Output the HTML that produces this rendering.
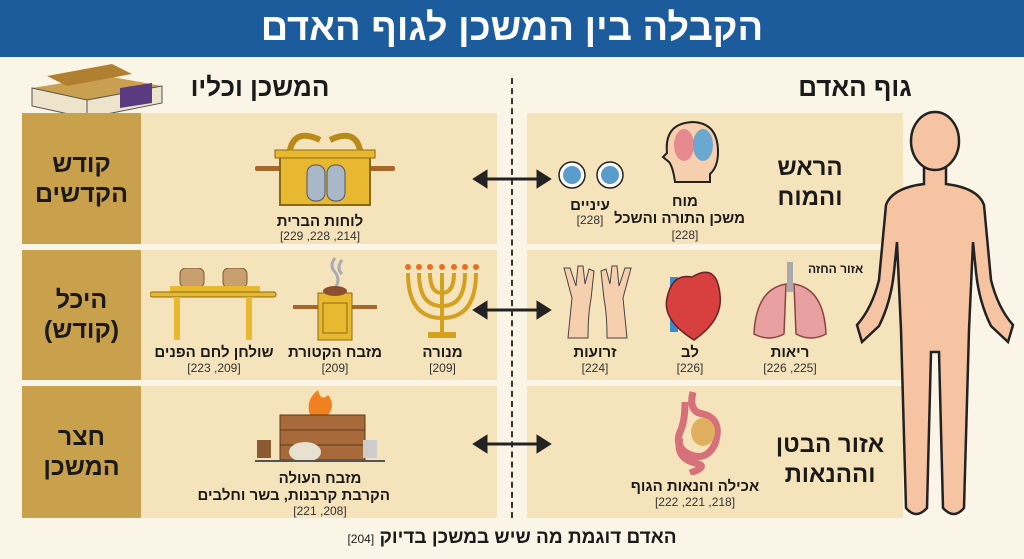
<!DOCTYPE html>
<html><head><meta charset="utf-8"><style>
*{margin:0;padding:0;box-sizing:border-box}
body{width:1024px;height:559px;background:#faf5e6;position:relative;overflow:hidden;font-family:"Liberation Sans","Noto Sans CJK SC",sans-serif;direction:rtl;color:#1a1a1a}
.a{position:absolute}
.hdr{left:0;top:0;width:1024px;height:57px;background:#1d5c9c;color:#fff;font-size:38px;font-weight:bold;text-align:center;line-height:56px}
.lab{background:#c9a14d;font-weight:bold;font-size:25px;text-align:center;line-height:30px;display:flex;align-items:center;justify-content:center}
.cnt{background:#f5e3bc}
.t{font-weight:bold;font-size:15px;text-align:center;white-space:nowrap}
.r{font-size:12px;text-align:center;color:#333;white-space:nowrap}
.big{font-weight:bold;font-size:24px;text-align:center;line-height:30px}
</style></head><body>
<div class="a hdr">הקבלה בין המשכן לגוף האדם</div>

<svg class="a" style="left:12px;top:58px" width="160" height="65">
<polygon points="20,30 95,18 150,28 75,42" fill="#c8a050"/>
<polygon points="20,30 75,42 75,60 20,48" fill="#eee4cc" stroke="#555"/>
<polygon points="75,42 150,28 150,45 75,60" fill="#eee4cc" stroke="#555"/>
<polygon points="108,30 140,25 140,45 108,50" fill="#5a3a80"/>
<polygon points="35,18 100,6 120,16 55,28" fill="#b08030"/>
</svg>

<div class="a big" style="left:175px;top:72px;width:170px;font-size:26px">המשכן וכליו</div>
<div class="a big" style="left:770px;top:72px;width:170px;font-size:26px">גוף האדם</div>

<div class="a" style="left:511px;top:78px;height:440px;border-left:2px dashed #333"></div>

<div class="a lab" style="left:22px;top:113px;width:119px;height:131px">קודש<br>הקדשים</div>
<div class="a cnt" style="left:141px;top:113px;width:356px;height:131px"></div>
<div class="a lab" style="left:22px;top:250px;width:119px;height:130px">היכל<br>(קודש)</div>
<div class="a cnt" style="left:141px;top:250px;width:356px;height:130px"></div>
<div class="a lab" style="left:22px;top:386px;width:119px;height:132px">חצר<br>המשכן</div>
<div class="a cnt" style="left:141px;top:386px;width:356px;height:132px"></div>

<div class="a cnt" style="left:527px;top:113px;width:376px;height:131px"></div>
<div class="a cnt" style="left:527px;top:250px;width:376px;height:130px"></div>
<div class="a cnt" style="left:527px;top:386px;width:376px;height:132px"></div>

<svg class="a" style="left:470px;top:160px" width="85" height="300">
<g stroke="#222" stroke-width="3" fill="#222">
<line x1="12" y1="19" x2="72" y2="19"/><polygon points="5,19 16,12 16,26"/><polygon points="79,19 68,12 68,26"/>
<line x1="12" y1="150" x2="72" y2="150"/><polygon points="5,150 16,143 16,157"/><polygon points="79,150 68,143 68,157"/>
<line x1="12" y1="284" x2="72" y2="284"/><polygon points="5,284 16,277 16,291"/><polygon points="79,284 68,277 68,291"/>
</g></svg>

<svg class="a" style="left:255px;top:120px" width="145" height="90">
<rect x="0" y="46" width="140" height="5" rx="2" fill="#a8662a"/>
<rect x="25" y="35" width="90" height="50" fill="#e8b830" stroke="#8a6a10" stroke-width="2"/>
<rect x="20" y="30" width="100" height="8" fill="#e8b830" stroke="#8a6a10"/>
<path d="M35,30 q5,-22 30,-10 M105,30 q-5,-22 -30,-10" stroke="#b88a18" stroke-width="6" fill="none"/>
<rect x="52" y="45" width="18" height="36" rx="8" fill="#a8b8c8" stroke="#556"/>
<rect x="72" y="45" width="18" height="36" rx="8" fill="#a8b8c8" stroke="#556"/>
</svg>
<div class="a t" style="left:250px;top:213px;width:140px">לוחות הברית</div>
<div class="a r" style="left:250px;top:229px;width:140px">[214, 228, 229]</div>

<svg class="a" style="left:400px;top:258px" width="85" height="85">
<g stroke="#d4a020" stroke-width="4" fill="none">
<line x1="42" y1="15" x2="42" y2="75"/>
<path d="M8,15 q0,45 34,45 q34,0 34,-45"/><path d="M19,15 q0,33 23,33 q23,0 23,-33"/><path d="M30,15 q0,20 12,20 q12,0 12,-20"/>
</g>
<rect x="28" y="74" width="28" height="6" fill="#d4a020"/>
<g fill="#e87020"><circle cx="8" cy="9" r="3"/><circle cx="19" cy="9" r="3"/><circle cx="30" cy="9" r="3"/><circle cx="42" cy="9" r="3"/><circle cx="54" cy="9" r="3"/><circle cx="65" cy="9" r="3"/><circle cx="76" cy="9" r="3"/></g>
</svg>
<div class="a t" style="left:400px;top:344px;width:85px">מנורה</div>
<div class="a r" style="left:400px;top:361px;width:85px">[209]</div>

<svg class="a" style="left:290px;top:255px" width="90" height="90">
<path d="M45,3 q-6,8 0,14 q6,8 0,16 M52,5 q-6,8 0,14" stroke="#aab" stroke-width="3" fill="none"/>
<rect x="3" y="50" width="84" height="4" fill="#a8662a"/>
<rect x="28" y="38" width="34" height="47" fill="#e8b830" stroke="#8a6a10"/>
<rect x="33" y="48" width="24" height="30" fill="none" stroke="#8a6a10"/>
<ellipse cx="45" cy="36" rx="12" ry="5" fill="#8a5030"/>
</svg>
<div class="a t" style="left:285px;top:344px;width:100px">מזבח הקטורת</div>
<div class="a r" style="left:285px;top:361px;width:100px">[209]</div>

<svg class="a" style="left:150px;top:268px" width="128" height="75">
<rect x="30" y="0" width="24" height="20" rx="6" fill="#c8a070" stroke="#7a5a30"/>
<rect x="73" y="0" width="24" height="20" rx="6" fill="#c8a070" stroke="#7a5a30"/>
<rect x="20" y="18" width="90" height="8" fill="#e8b830"/>
<rect x="0" y="24" width="126" height="5" rx="2" fill="#e8b830" stroke="#8a6a10"/>
<rect x="24" y="29" width="6" height="43" fill="#e8b830"/><rect x="96" y="29" width="6" height="43" fill="#e8b830"/>
</svg>
<div class="a t" style="left:150px;top:344px;width:128px">שולחן לחם הפנים</div>
<div class="a r" style="left:150px;top:361px;width:128px">[209, 223]</div>

<svg class="a" style="left:255px;top:390px" width="135" height="75">
<path d="M55,25 q-5,-15 8,-25 q3,12 10,5 q8,10 0,20z" fill="#f08020"/>
<rect x="25" y="25" width="85" height="45" fill="#a86a3a" stroke="#5a3818"/>
<line x1="25" y1="40" x2="110" y2="40" stroke="#5a3818"/><line x1="25" y1="55" x2="110" y2="55" stroke="#5a3818"/>
<ellipse cx="50" cy="62" rx="16" ry="10" fill="#e8e0d0"/>
<rect x="108" y="50" width="14" height="18" fill="#ccc"/>
<rect x="2" y="50" width="14" height="18" fill="#8a5a30"/>
<line x1="0" y1="71" x2="130" y2="71" stroke="#555" stroke-width="2"/>
</svg>
<div class="a t" style="left:250px;top:470px;width:140px">מזבח העולה</div>
<div class="a t" style="left:250px;top:487px;width:140px">הקרבת קרבנות, בשר וחלבים</div>
<div class="a r" style="left:250px;top:504px;width:140px">[208, 221]</div>

<svg class="a" style="left:660px;top:120px" width="60" height="65">
<path d="M15,62 q-2,-15 -6,-20 l-6,-5 l4,-4 q-3,-30 26,-31 q25,1 25,30 q0,15 -8,22 l0,8z" fill="#f6cfae" stroke="#222" stroke-width="2"/>
<ellipse cx="24" cy="25" rx="10" ry="16" fill="#e78a90"/><ellipse cx="43" cy="25" rx="10" ry="16" fill="#6aa8d0"/>
</svg>
<div class="a t" style="left:625px;top:193px;width:120px">מוח</div>
<div class="a t" style="left:625px;top:210px;width:120px">משכן התורה והשכל</div>
<div class="a r" style="left:625px;top:228px;width:120px">[228]</div>
<svg class="a" style="left:558px;top:160px" width="70" height="30">
<circle cx="14" cy="15" r="13" fill="#fff" stroke="#222" stroke-width="1.5"/><circle cx="14" cy="15" r="9" fill="#5a9ccc"/>
<circle cx="52" cy="15" r="13" fill="#fff" stroke="#222" stroke-width="1.5"/><circle cx="52" cy="15" r="9" fill="#5a9ccc"/>
</svg>
<div class="a t" style="left:555px;top:197px;width:70px">עיניים</div>
<div class="a r" style="left:555px;top:213px;width:70px">[228]</div>
<div class="a big" style="left:770px;top:153px;width:80px">הראש<br>והמוח</div>

<div class="a" style="left:808px;top:262px;font-size:12px;font-weight:bold">אזור החזה</div>
<svg class="a" style="left:750px;top:262px" width="80" height="80">
<rect x="37" y="0" width="6" height="30" fill="#aaa"/>
<path d="M36,22 q-30,5 -32,50 q15,8 30,0z" fill="#e9a0a0" stroke="#844" stroke-width="1.5"/>
<path d="M44,22 q30,5 32,50 q-15,8 -30,0z" fill="#e9a0a0" stroke="#844" stroke-width="1.5"/>
</svg>
<div class="a t" style="left:750px;top:344px;width:80px">ריאות</div>
<div class="a r" style="left:750px;top:361px;width:80px">[225, 226]</div>
<svg class="a" style="left:660px;top:262px" width="65" height="80">
<rect x="10" y="15" width="8" height="55" fill="#3a8ad0"/>
<path d="M32,15 q25,-15 28,18 q3,25 -26,45 q-32,-20 -27,-42 q5,-25 25,-21z" fill="#d84040" stroke="#622" stroke-width="1.5"/>
</svg>
<div class="a t" style="left:650px;top:344px;width:80px">לב</div>
<div class="a r" style="left:650px;top:361px;width:80px">[226]</div>
<svg class="a" style="left:560px;top:258px" width="75" height="82">
<path d="M8,80 l4,-40 l-8,-30 l6,0 l6,18 l2,-20 l5,0 l2,18 l4,-15 l5,2 l-3,28 q-3,15 -3,39z" fill="#f6cfae" stroke="#444"/>
<path d="M67,80 l-4,-40 l8,-30 l-6,0 l-6,18 l-2,-20 l-5,0 l-2,18 l-4,-15 l-5,2 l3,28 q3,15 3,39z" fill="#f6cfae" stroke="#444"/>
</svg>
<div class="a t" style="left:555px;top:344px;width:80px">זרועות</div>
<div class="a r" style="left:555px;top:361px;width:80px">[224]</div>

<svg class="a" style="left:665px;top:390px" width="60" height="85">
<path d="M28,2 q-5,20 10,22 q20,5 12,30 q-10,20 -30,8 q-10,-8 -5,-20 q5,-10 5,-30 M15,48 q-5,20 15,25 q15,3 -5,10" stroke="#d8707a" stroke-width="7" fill="none"/>
<ellipse cx="38" cy="42" rx="12" ry="14" fill="#e0b060"/>
</svg>
<div class="a t" style="left:625px;top:478px;width:140px">אכילה והנאות הגוף</div>
<div class="a r" style="left:625px;top:495px;width:140px">[218, 221, 222]</div>
<div class="a big" style="left:775px;top:430px;width:110px">אזור הבטן<br>וההנאות</div>

<svg class="a" style="left:0;top:0" width="1024" height="559">
<g fill="#f6c4a2" stroke="#222" stroke-width="2.5">
<path d="M924,160 L924,184 Q892,188 886,205 L879,280 Q872,308 857,325 L862,342 L879,326 Q891,302 894,272 L897,242 L901,330 L906,508 Q916,520 927,508 L931,352 L939,352 L943,508 Q954,520 964,508 L969,330 L973,242 L976,272 Q979,302 991,326 L1008,342 L1013,325 Q998,308 991,280 L984,205 Q978,188 946,184 L946,160 Z"/>
<ellipse cx="935" cy="141" rx="24" ry="29"/>
</g>
</svg>

<div class="a" style="left:0;top:527px;width:1024px;text-align:center;font-size:19px;font-weight:bold">האדם דוגמת מה שיש במשכן בדיוק <span style="font-size:12px;font-weight:normal">[204]</span></div>
</body></html>
